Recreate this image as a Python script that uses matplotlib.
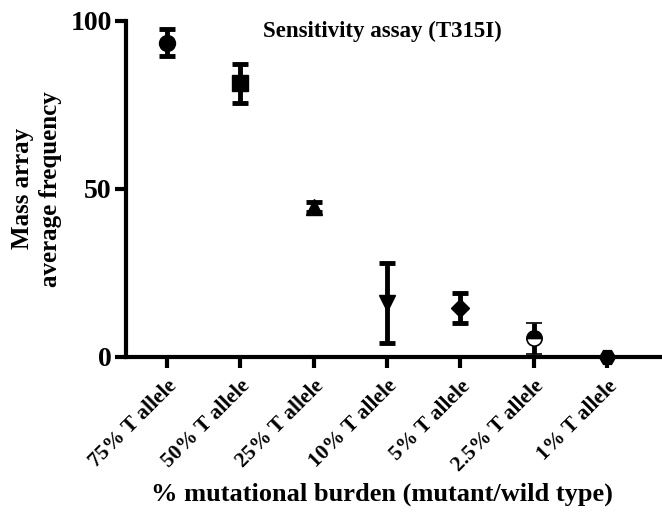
import matplotlib
matplotlib.use("Agg")
import matplotlib.pyplot as plt

# datos
categorias = ["75% T allele", "50% T allele", "25% T allele", "10% T allele",
              "5% T allele", "2.5% T allele", "1% T allele"]
medias = [93.5, 81.5, 44.5, 16.0, 14.6, 5.6, 0.0]
errores = [4.0, 5.8, 1.5, 12.0, 4.4, 4.6, 0.0]
marcadores = ["o", "s", "^", "v", "D", "o", "H"]

plt.rcParams['font.family'] = ['Liberation Serif', 'DejaVu Serif']
plt.rcParams['font.weight'] = 'bold'

fig = plt.figure(figsize=(6.62, 5.12), dpi=100)
ax = fig.add_axes([0.19, 0.303, 0.81, 0.656])

for i, (m, e, mk) in enumerate(zip(medias, errores, marcadores)):
    if i == 5:
        ax.errorbar(i, m, yerr=e, fmt=mk, color="black", mfc="black", mec="black",
                    ms=11, mew=1.2, ecolor="black", elinewidth=3.5, capsize=6, capthick=3.5,
                    fillstyle="top", markerfacecoloralt="white", zorder=3)
    else:
        ms = 9 if mk == "D" else 11.5
        ax.errorbar(i, m, yerr=e if e > 0 else None, fmt=mk, color="black", ms=ms,
                    ecolor="black", elinewidth=3.5, capsize=6, capthick=3.5, zorder=3,
                    clip_on=False)

ax.set_xlim(-0.56, 6.75)
ax.set_ylim(0, 100)
ax.set_yticks([0, 50, 100])
ax.set_xticks(range(len(categorias)))
ax.set_xticklabels(categorias, rotation=45, ha="right", rotation_mode="anchor",
                   fontsize=15.5, fontweight="bold")
ax.tick_params(axis="y", labelsize=20, width=3, length=8, pad=2)
ax.tick_params(axis="x", width=3, length=8, pad=6)
for lbl in ax.get_yticklabels():
    lbl.set_fontweight("bold")

ax.spines["top"].set_visible(False)
ax.spines["right"].set_visible(False)
ax.spines["left"].set_linewidth(3)
ax.spines["bottom"].set_linewidth(3)

ax.set_ylabel("Mass array\naverage frequency", fontsize=18, fontweight="bold", labelpad=6,
              linespacing=1.3)
ax.set_xlabel("% mutational burden (mutant/wild type)", fontsize=19, fontweight="bold")
ax.xaxis.set_label_coords(0.478, -0.375)
ax.text(0.478, 0.97, "Sensitivity assay (T315I)", transform=ax.transAxes, ha="center",
        va="center", fontsize=16.5, fontweight="bold")

fig.savefig("out.png", dpi=100)
